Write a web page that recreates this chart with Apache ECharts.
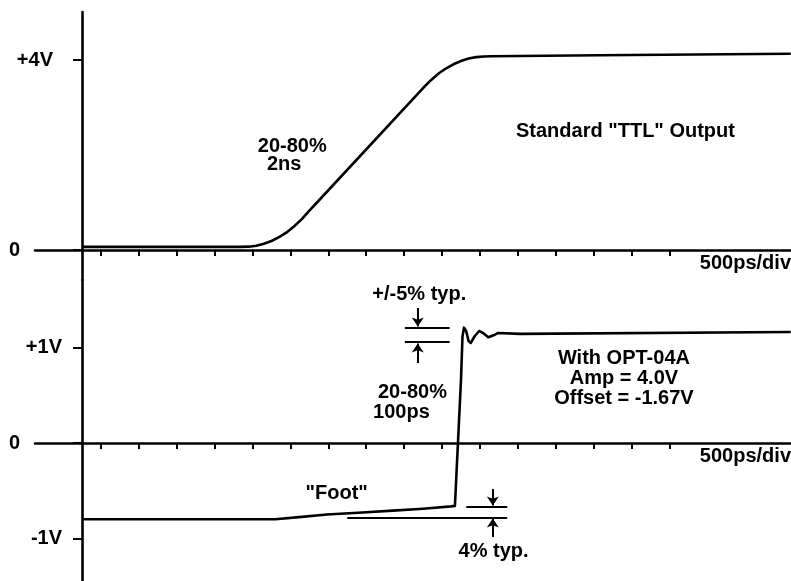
<!DOCTYPE html>
<html><head><meta charset="utf-8">
<script src="https://cdn.jsdelivr.net/npm/echarts@6/dist/echarts.min.js"></script>
<style>html,body{margin:0;padding:0;background:#fff}#c{width:791px;height:581px}</style>
</head><body><div id="c"></div>
<script>
// ---- data (time in ns, voltage in V) ----
const xTicks = [0.25,0.75,1.25,1.75,2.25,2.75,3.25,3.75,4.25,4.75,5.25,5.75,6.25,6.75,7.25,7.75];

const topTickValues = [0, 4];
const topTickLabels = ['0', '+4V'];
const bottomTickValues = [-1, 0, 1];
const bottomTickLabels = ['-1V', '0', '+1V'];

const ttlTime = [0, 2.08, 2.20, 2.30, 2.40, 2.50, 2.60, 2.70, 2.80, 2.90, 3.00, 3.10, 4.50, 4.60, 4.70, 4.80, 4.90, 5.00, 5.10, 5.20, 5.30, 5.40, 6.83, 9.35];
const ttlVolt = [0.065, 0.065, 0.07, 0.09, 0.13, 0.19, 0.27, 0.37, 0.50, 0.65, 0.83, 1.00, 3.41, 3.57, 3.71, 3.82, 3.91, 3.98, 4.03, 4.06, 4.075, 4.08, 4.10, 4.13];

const optTime = [0, 2.55, 2.90, 3.23, 3.70, 4.10, 4.50, 4.87, 4.92, 4.96, 5.00, 5.02, 5.04, 5.07, 5.10, 5.13, 5.18, 5.24, 5.30, 5.36, 5.43, 5.49, 5.78, 9.35];
const optVolt = [-0.80, -0.80, -0.775, -0.75, -0.73, -0.71, -0.69, -0.665, -0.66, 0, 0.66, 1.12, 1.21, 1.17, 1.07, 1.05, 1.12, 1.175, 1.15, 1.11, 1.13, 1.155, 1.145, 1.165];

// annotation level lines (bottom panel): [x1, x2, y]
const levelX1 = [4.26, 4.26, 3.50, 5.07];
const levelX2 = [4.85, 4.85, 5.61, 5.61];
const levelY  = [1.207, 1.060, -0.780, -0.668];
// annotation arrows (bottom panel): x, from y, to y (tip)
const arrowX    = [4.43, 4.43, 5.42, 5.42];
const arrowFrom = [1.417, 0.839, -0.483, -0.986];
const arrowTo   = [1.222, 1.044, -0.655, -0.792];

// texts
const topNoteText  = ['20-80%', '2ns', 'Standard "TTL" Output'];
const topNoteX     = [2.32, 2.44, 7.17];
const topNoteY     = [2.17, 1.79, 2.495];
const topNoteAlign = ['left', 'left', 'center'];

const botNoteText  = ['+/-5% typ.', '20-80%', '100ps', 'With OPT-04A', 'Amp = 4.0V', 'Offset = -1.67V', '"Foot"', '4% typ.'];
const botNoteX     = [3.83, 3.905, 3.84, 7.15, 7.15, 7.15, 3.36, 5.43];
const botNoteY     = [1.563, 0.525, 0.325, 0.892, 0.682, 0.472, -0.535, -1.134];
const botNoteAlign = ['left', 'left', 'left', 'center', 'center', 'center', 'center', 'center'];

const axisUnit = '500ps/div';

// ---- chart ----
const FONT = 'Liberation Sans';
const INK = '#000';
const chart = echarts.init(document.getElementById('c'), null, {renderer: 'canvas'});

function zip(a, b) { return a.map((v, i) => [v, b[i]]); }
function notes(text, xs, ys, al) {
  return text.map((t, i) => ({name: t, value: [xs[i], ys[i]], label: {align: al[i]}}));
}
function xAxisDef(gi) {
  return {
    type: 'value', gridIndex: gi, min: -0.62, max: 9.354,
    axisLine: {onZero: true, lineStyle: {color: INK, width: 2.6}},
    axisTick: {show: true, inside: false, length: 6, customValues: xTicks, lineStyle: {color: INK, width: 2}},
    axisLabel: {show: false},
    splitLine: {show: false},
    name: axisUnit, nameLocation: 'end', nameGap: 0,
    nameTextStyle: {align: 'right', verticalAlign: 'top', padding: [3, 0, 0, 0], fontFamily: FONT, fontWeight: 'bold', fontSize: 20, color: INK}
  };
}
function yAxisDef(gi, min, max, vals, labs) {
  return {
    type: 'value', gridIndex: gi, min: min, max: max,
    axisLine: {onZero: true, lineStyle: {color: INK, width: 2.6}},
    axisTick: {show: true, length: 9, customValues: vals, lineStyle: {color: INK, width: 2}},
    axisLabel: {
      show: true, customValues: vals, margin: -27,
      formatter: v => {
        const i = vals.indexOf(v);
        const t = i >= 0 ? labs[i] : '';
        if (t === '0') return '{z|0}';
        if (t === '+4V') return '{a|' + t + '}';
        return '{b|' + t + '}';
      },
      rich: {
        z: {padding: [0, 42, 0, 0], fontFamily: FONT, fontWeight: 'bold', fontSize: 20, color: INK},
        a: {padding: [0, 9, 0, 0], fontFamily: FONT, fontWeight: 'bold', fontSize: 20, color: INK},
        b: {padding: [0, 0, 0, 0], fontFamily: FONT, fontWeight: 'bold', fontSize: 20, color: INK}
      }
    },
    splitLine: {show: false}
  };
}
const noteLabel = {show: true, position: 'inside', formatter: '{b}', verticalAlign: 'middle',
  fontFamily: FONT, fontWeight: 'bold', fontSize: 20, color: INK, opacity: 1};

const markData = [];
for (let i = 0; i < levelY.length; i++) {
  markData.push([{coord: [levelX1[i], levelY[i]], symbol: 'none'}, {coord: [levelX2[i], levelY[i]], symbol: 'none'}]);
}
for (let i = 0; i < arrowX.length; i++) {
  markData.push([{coord: [arrowX[i], arrowFrom[i]], symbol: 'none'}, {coord: [arrowX[i], arrowTo[i]], symbol: 'arrow', symbolSize: 9}]);
}

chart.setOption({
  animation: false,
  backgroundColor: '#fff',
  grid: [
    {left: 35, right: 0, top: 12, height: 268, containLabel: false, outerBoundsMode: 'none'},
    {left: 35, right: 0, top: 280, height: 301, containLabel: false, outerBoundsMode: 'none'}
  ],
  xAxis: [xAxisDef(0), xAxisDef(1)],
  yAxis: [
    yAxisDef(0, -0.6316, 5.0105, topTickValues, topTickLabels),
    yAxisDef(1, -1.4481, 1.7104, bottomTickValues, bottomTickLabels)
  ],
  series: [
    {type: 'line', xAxisIndex: 0, yAxisIndex: 0, data: zip(ttlTime, ttlVolt), showSymbol: false, smooth: false,
     lineStyle: {color: INK, width: 2.6, join: 'round'}, silent: true},
    {type: 'line', xAxisIndex: 1, yAxisIndex: 1, data: zip(optTime, optVolt), showSymbol: false, smooth: false,
     lineStyle: {color: INK, width: 2.6, join: 'round'}, silent: true,
     markLine: {silent: true, symbol: 'none', label: {show: false},
       lineStyle: {color: INK, width: 2, type: 'solid'}, emphasis: {disabled: true},
       data: markData}},
    {type: 'scatter', xAxisIndex: 0, yAxisIndex: 0, symbolSize: 0, silent: true, itemStyle: {opacity: 1, color: INK},
     data: notes(topNoteText, topNoteX, topNoteY, topNoteAlign), label: noteLabel},
    {type: 'scatter', xAxisIndex: 1, yAxisIndex: 1, symbolSize: 0, silent: true, itemStyle: {opacity: 1, color: INK},
     data: notes(botNoteText, botNoteX, botNoteY, botNoteAlign), label: noteLabel}
  ]
});
</script></body></html>
